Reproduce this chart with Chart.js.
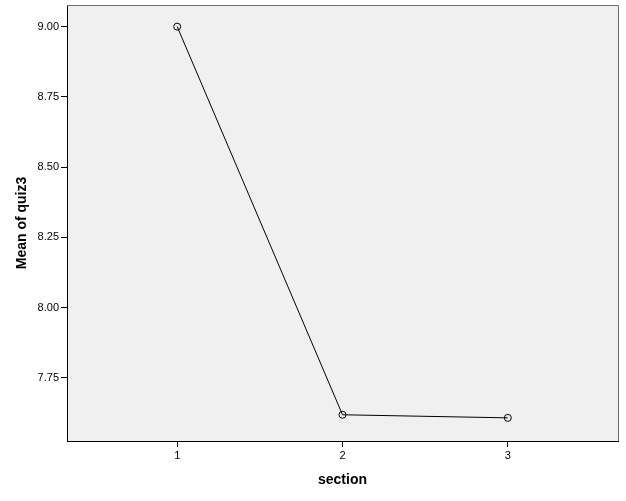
<!DOCTYPE html>
<html>
<head>
<meta charset="utf-8">
<script src="https://cdn.jsdelivr.net/npm/chart.js@4"></script>
<style>
  body { margin: 0; background: #fff; }
  #wrap { width: 626px; height: 501px; }
</style>
</head>
<body>
<div id="wrap"><canvas id="chart" width="626" height="501"></canvas></div>
<script>
const sections = [1, 2, 3];
const meanQuiz3 = [9.00, 7.618, 7.607];
const yTicks = [7.75, 8.00, 8.25, 8.50, 8.75, 9.00];

const frame = {
    id: 'frame',
    beforeDraw(chart) {
        const {ctx, chartArea: a} = chart;
        ctx.save();
        ctx.fillStyle = '#f0f0f0';
        ctx.fillRect(a.left, a.top, a.right - a.left, a.bottom - a.top);
        ctx.restore();
    },
    afterDraw(chart) {
        const {ctx, chartArea: a} = chart;
        ctx.save();
        ctx.strokeStyle = '#6e6e6e';
        ctx.lineWidth = 1;
        ctx.beginPath();
        ctx.moveTo(a.left, a.top + 0.5);
        ctx.lineTo(a.right + 0.5, a.top + 0.5);
        ctx.lineTo(a.right + 0.5, a.bottom);
        ctx.stroke();
        ctx.restore();
    }
};

const tickFont = { family: 'Arial, "Liberation Sans"', size: 11 };
const titleFont = { family: 'Arial, "Liberation Sans"', size: 14, weight: 'bold' };

new Chart(document.getElementById('chart').getContext('2d'), {
    type: 'line',
    data: {
        datasets: [{
            data: sections.map((s, i) => ({ x: s, y: meanQuiz3[i] })),
            borderColor: '#000',
            borderWidth: 1,
            pointRadius: 3.5,
            pointBorderWidth: 1,
            pointBorderColor: '#000',
            pointBackgroundColor: 'rgba(0,0,0,0)',
            fill: false,
            tension: 0
        }]
    },
    options: {
        responsive: false,
        animation: false,
        events: [],
        layout: { padding: { top: 5, right: 8, left: 0, bottom: 0 } },
        plugins: { legend: { display: false }, tooltip: { enabled: false } },
        scales: {
            x: {
                type: 'linear',
                min: 1 / 3,
                max: 11 / 3,
                afterBuildTicks: (s) => { s.ticks = sections.map((v) => ({ value: v })); },
                afterFit: (s) => { s.height = 60; s.paddingLeft = 0; s.paddingRight = 0; },
                grid: { drawOnChartArea: false, drawTicks: true, tickLength: 6, color: '#000' },
                border: { display: true, color: '#000' },
                ticks: { color: '#000', font: tickFont, padding: 2, maxRotation: 0,
                    callback: (v) => String(v) },
                title: { display: true, text: 'section', color: '#000', font: titleFont,
                    padding: { top: 0, bottom: 12 } }
            },
            y: {
                min: 7.5246,
                max: 9.077,
                afterBuildTicks: (s) => { s.ticks = yTicks.map((v) => ({ value: v })); },
                afterFit: (s) => { s.width = 67; s.paddingTop = 0; s.paddingBottom = 0; },
                grid: { drawOnChartArea: false, drawTicks: true, tickLength: 6, color: '#000' },
                border: { display: true, color: '#000' },
                ticks: { color: '#000', font: tickFont, padding: 2,
                    callback: (v) => v.toFixed(2) },
                title: { display: true, text: 'Mean of quiz3', color: '#000', font: titleFont,
                    padding: { top: 14, bottom: 0 } }
            }
        }
    },
    plugins: [frame]
});
</script>
</body>
</html>
